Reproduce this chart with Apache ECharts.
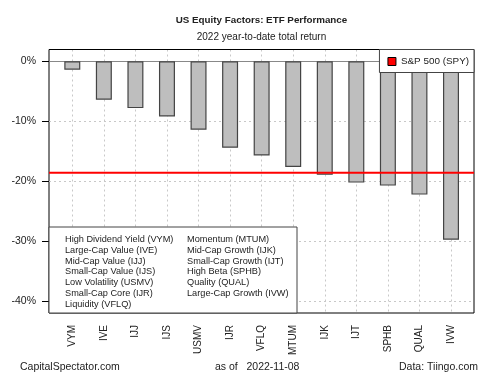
<!DOCTYPE html>
<html><head><meta charset="utf-8">
<script src="https://cdn.jsdelivr.net/npm/echarts@6/dist/echarts.min.js"></script>
<style>html,body{margin:0;padding:0;background:#fff}#c{width:500px;height:375px}</style>
</head><body><div id="c"></div>
<script>
const categories = ['VYM','IVE','IJJ','IJS','USMV','IJR','VFLQ','MTUM','IJK','IJT','SPHB','QUAL','IVW'];
const returns = [-1.4,-6.4,-7.8,-9.2,-11.4,-14.4,-15.7,-17.6,-18.9,-20.2,-20.7,-22.2,-29.7];
const spyReturn = -18.55;
const yTicks = [0,-10,-20,-30,-40];
const legendCol1 = ['High Dividend Yield (VYM)','Large-Cap Value (IVE)','Mid-Cap Value (IJJ)','Small-Cap Value (IJS)','Low Volatility (USMV)','Small-Cap Core (IJR)','Liquidity (VFLQ)'];
const legendCol2 = ['Momentum (MTUM)','Mid-Cap Growth (IJK)','Small-Cap Growth (IJT)','High Beta (SPHB)','Quality (QUAL)','Large-Cap Growth (IVW)'];

const FONT = 'Liberation Sans, Arial, sans-serif';
const chart = echarts.init(document.getElementById('c'), null, {renderer:'canvas'});

const PL = 49, PT = 49.5, PR = 474, PB = 313;
const textEls = [];
function addText(x, y, s, font, align) {
  textEls.push({type:'text', x:x, y:y, z:100,
    style:{text:s, fill:'#222', font:font, textAlign:align||'left', textVerticalAlign:'middle'}});
}
legendCol1.forEach((s,i)=>addText(65, 239.3 + i*10.85, s, '9.2px '+FONT));
legendCol2.forEach((s,i)=>addText(187, 239.3 + i*10.85, s, '9.2px '+FONT));
addText(261.5, 20, 'US Equity Factors: ETF Performance', 'bold 9.8px '+FONT, 'center');
addText(261.5, 37, '2022 year-to-date total return', '10px '+FONT, 'center');
addText(20, 367, 'CapitalSpectator.com', '10.5px '+FONT);
addText(215, 367, 'as of   2022-11-08', '10.5px '+FONT);
addText(478, 367, 'Data: Tiingo.com', '10.5px '+FONT, 'right');

const option = {
  backgroundColor:'#fff',
  animation:false,
  textStyle:{fontFamily:FONT},
  legend:{
    data:[{name:'S&P 500 (SPY)', icon:'rect', itemStyle:{color:'#ff0000', borderColor:'#000', borderWidth:1}}],
    right:26, top:49.5, z:20,
    backgroundColor:'#fff', borderColor:'#444', borderWidth:1, borderRadius:0,
    padding:[7,5,6,8], itemWidth:8, itemHeight:8, itemGap:8,
    textStyle:{fontSize:9.9, color:'#222', fontFamily:FONT}
  },
  grid:[
    {left:PL, top:PT, width:PR-PL, height:PB-PT, show:true, borderColor:'#000', borderWidth:1, z:1},
    {left:72.3, top:PT, width:451-72.3, height:PB-PT, show:false}
  ],
  xAxis:[
    {gridIndex:0, type:'value', min:0, max:1, show:false},
    {gridIndex:1, type:'category', data:categories, boundaryGap:false,
     axisLine:{show:false}, axisTick:{show:true, length:6, lineStyle:{color:'#000'}},
     axisLabel:{rotate:90, margin:12, fontSize:10, color:'#222', fontFamily:FONT, interval:0},
     splitLine:{show:true, lineStyle:{color:'#c8c8c8', type:[2,3], width:1}}}
  ],
  yAxis:[
    {gridIndex:0, type:'value', min:-41.9, max:1.95,
     axisLine:{show:false},
     axisTick:{show:true, length:7, customValues:yTicks, lineStyle:{color:'#000'}},
     axisLabel:{customValues:yTicks, margin:13, fontSize:10.5, color:'#222', fontFamily:FONT, formatter:v=>v+'%'},
     splitLine:{show:false}},
    {gridIndex:1, type:'value', min:-41.9, max:1.95, show:false, splitLine:{show:false}}
  ],
  series:[
    {type:'line', xAxisIndex:0, yAxisIndex:0, data:[], z:1, silent:true,
     markLine:{symbol:'none', silent:true, label:{show:false}, z:1,
       data:yTicks.map(v=>({yAxis:v, lineStyle:{color: v===0 ? '#888' : '#c8c8c8', type: v===0 ? 'solid' : [2,3], width:1}}))}},
    {type:'bar', xAxisIndex:1, yAxisIndex:1, data:returns, barWidth:16, z:3,
     itemStyle:{color:'#bebebe', borderColor:'#444', borderWidth:1.2}},
    {name:'S&P 500 (SPY)', type:'line', xAxisIndex:0, yAxisIndex:0, z:5,
     data:[[0,spyReturn],[1,spyReturn]], symbol:'none', lineStyle:{color:'#ff0000', width:2}, itemStyle:{color:'#ff0000'}}
  ],
  graphic:[
    {type:'rect', z:50, shape:{x:49, y:227, width:248, height:86}, style:{fill:'#fff', stroke:'#444', lineWidth:1}},
    ...textEls
  ]
};
chart.setOption(option);
</script></body></html>
